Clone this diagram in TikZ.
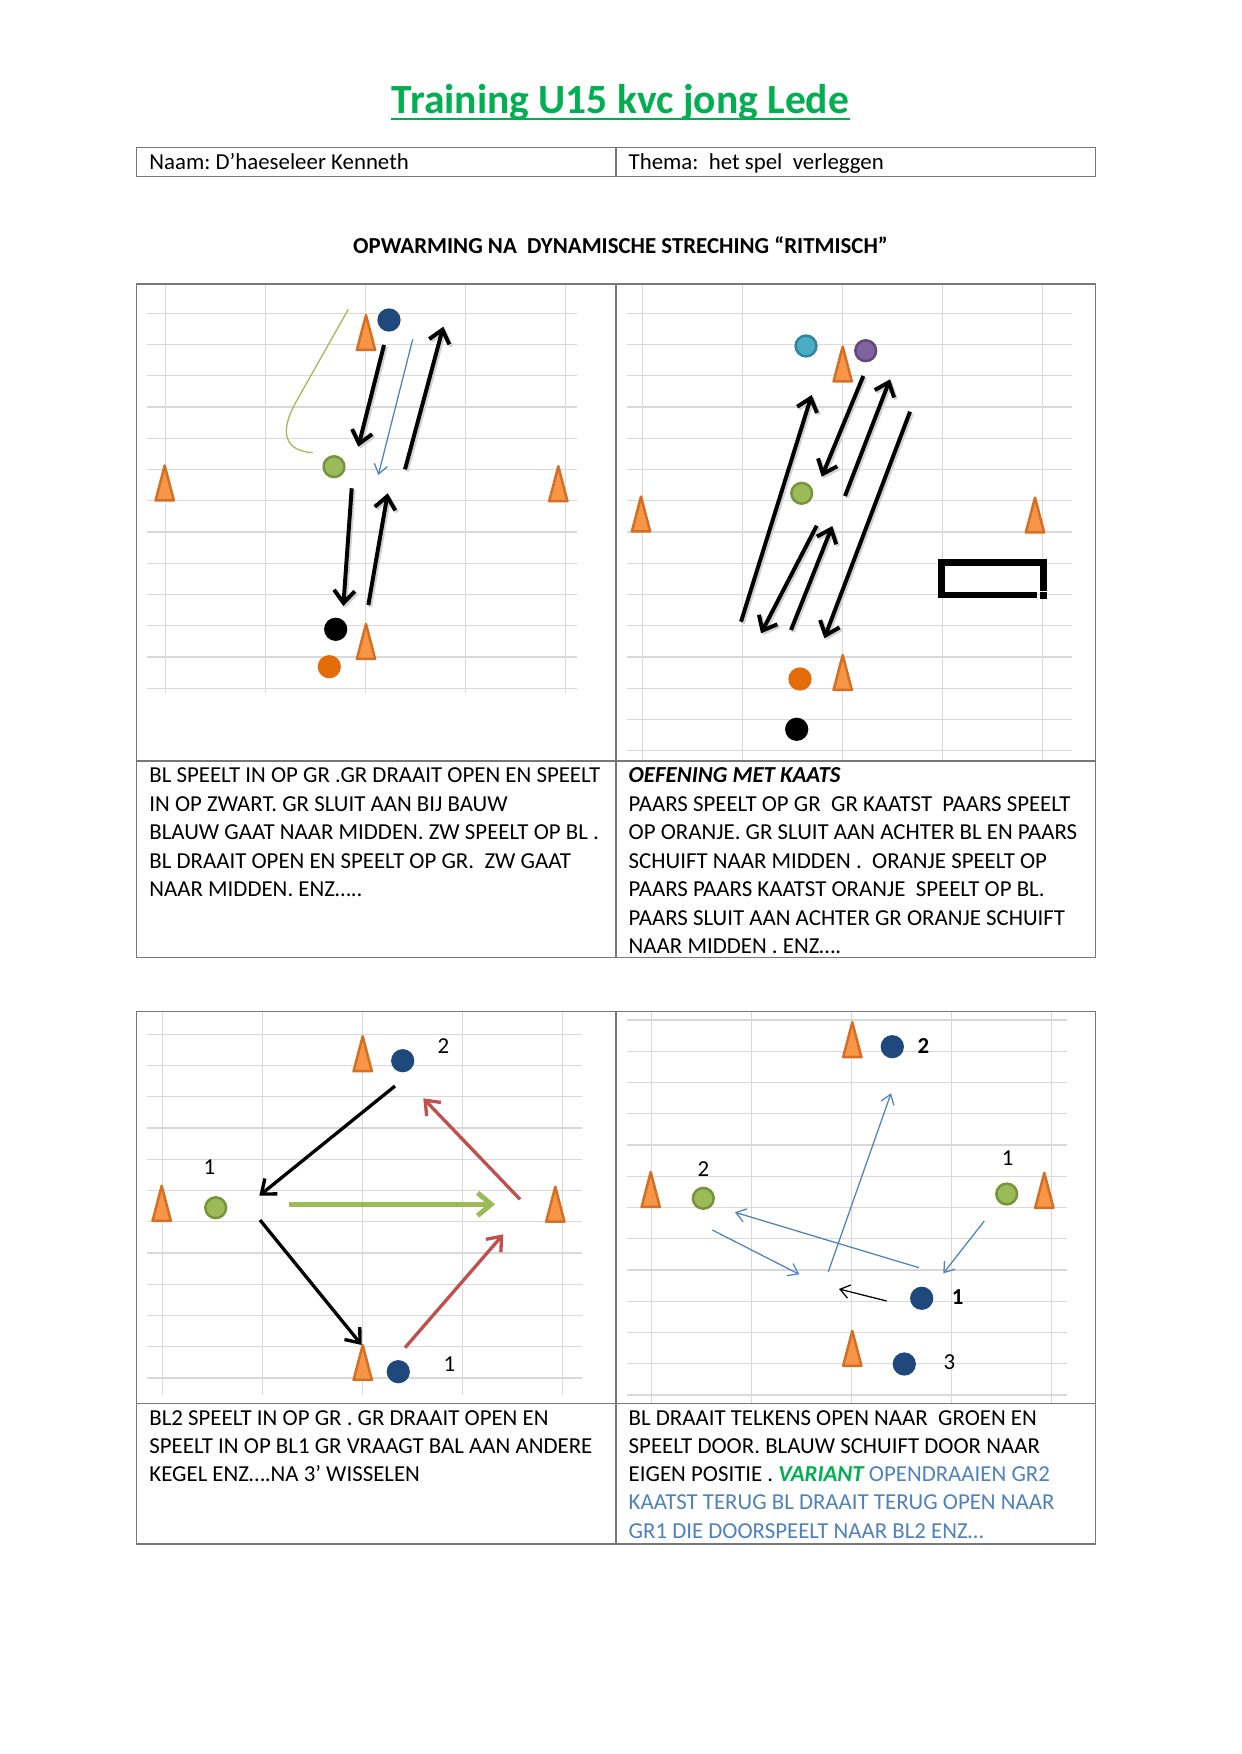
\documentclass[tikz,border=0pt]{standalone}
\usepackage{fontspec}
\setmainfont{Carlito}
\frenchspacing
\usetikzlibrary{arrows.meta}
\definecolor{kvcgreen}{RGB}{0,176,80}
\definecolor{gridgray}{RGB}{217,217,217}
\definecolor{bordergray}{RGB}{120,120,120}
\definecolor{conefill}{RGB}{247,150,70}
\definecolor{coneline}{RGB}{214,110,36}
\definecolor{plblue}{RGB}{31,73,125}
\definecolor{plgreen}{RGB}{155,187,89}
\definecolor{plgreenring}{RGB}{119,147,60}
\definecolor{plcyan}{RGB}{75,172,198}
\definecolor{plcyanring}{RGB}{49,133,156}
\definecolor{plpurple}{RGB}{128,100,162}
\definecolor{plpurplering}{RGB}{95,73,122}
\definecolor{plorange}{RGB}{227,108,9}
\definecolor{passblue}{RGB}{79,129,189}
\definecolor{passred}{RGB}{192,80,77}

\begin{document}
\begin{tikzpicture}[x=0.16922mm, y=-0.16922mm,
	every node/.style={font=\fontsize{11}{13.4}\selectfont, inner sep=0pt},
	txt/.style={anchor=base west},
	gridline/.style={gridgray, line width=0.6pt},
	tableline/.style={bordergray, line width=0.7pt},
	player/.style={circle, fill=#1, minimum size=11.2pt},
	ringplayer/.style 2 args={circle, fill=#1, draw=#2, line width=1.2pt, minimum size=10pt},
	conebox/.style={minimum width=8.4pt, minimum height=16.4pt},
	conemark/.style={fill=conefill, draw=coneline, line width=1.2pt, line join=round},
	bigpass/.style={line width=1.9pt, -{Straight Barb[length=6pt,width=10pt]}},
	passarrow/.style={line width=1.6pt, -{Straight Barb[length=6pt,width=9.5pt]}},
	thinpass/.style={passblue, line width=0.6pt, -{Straight Barb[length=4.5pt,width=6.5pt]}}]
	\fill[white] (0,0) rectangle (1241,1754);
	\useasboundingbox (0,0) rectangle (1241,1754);
	
	\node[font=\fontsize{20}{24}\selectfont\bfseries, text=kvcgreen, anchor=base] (title) at (620.5,113.3) {Training U15 kvc jong Lede};
	\draw[kvcgreen, line width=1pt] ([yshift=-2.9pt]title.base west) -- ([yshift=-2.9pt]title.base east);
	\draw[tableline] (136.5,147.7) rectangle (1095.5,176.7) (616,147.7) -- (616,176.7);
	\node[txt] (naam) at (149,170) {Naam: D’haeseleer Kenneth};
	\node[txt] (thema) at (628.3,170) {Thema:~ het spel~ verleggen};
	\node[font=\fontsize{11}{13.4}\selectfont\bfseries, anchor=base] (opwarming) at (620.5,253.3) {OPWARMING NA~ DYNAMISCHE STRECHING “RITMISCH”};
	
	\foreach \gx/\gt/\gb/\hy/\hn/\hl/\hr in {165.7/285/693/313.3/12/147.3/576.7, 642.3/285/760/313.3/14/627.3/1072.3, 162.3/1012/1395/1034.3/11/147.3/581.7, 651.7/1012/1403/1020/12/627.3/1066.7} {
		\foreach \k in {0,...,4} \draw[gridline] ({\gx+100*\k},\gt) -- ({\gx+100*\k},\gb);
		\foreach \k in {0,...,\hn} \draw[gridline] (\hl,{\hy+31.25*\k}) -- (\hr,{\hy+31.25*\k});
	}
	\draw[tableline] (136.5,284) rectangle (1095.5,957.3) (136.5,761) -- (1095.5,761) (616,284) -- (616,957.3);
	\draw[tableline] (136.5,1011.5) rectangle (1095.5,1544) (136.5,1403.3) -- (1095.5,1403.3) (616,1011.5) -- (616,1544);
	
	\foreach \n/\x/\y in {ka1/366/332.5, ka2/164.7/483, ka3/558.3/483.7, ka4/366/641.5, kb1/842.7/364, kb2/641/514, kb3/1035/515, kb4/842.7/672.5, kc1/362.7/1053.7, kc2/161.7/1203.3, kc3/555.3/1204.2, kc4/362.7/1362.5, kd1/852.3/1039.7, kd2/650.7/1189.5, kd3/1044.3/1190.3, kd4/852.3/1348.3} {
		\node[conebox] (\n) at (\x,\y) {};
		\draw[conemark] (\n.south west) -- (\n.north) -- (\n.south east) -- cycle;
	}
	
	\node[player=plblue] (bla) at (389,320) {};
	\node[player=black] (zwa) at (335.7,629.3) {};
	\node[player=plorange] (ora) at (329.3,666.7) {};
	\node[ringplayer={plgreen}{plgreenring}] (gra) at (334,466.7) {};
	\node[ringplayer={plcyan}{plcyanring}] (blb) at (806,346) {};
	\node[ringplayer={plpurple}{plpurplering}] (pab) at (865.7,350.7) {};
	\node[ringplayer={plgreen}{plgreenring}] (grb) at (801.7,493.3) {};
	\node[player=plorange] (orb) at (800,679) {};
	\node[player=black] (zwb) at (796.7,729.3) {};
	\node[player=plblue] (blc2) at (402.7,1060.7) {};
	\node[ringplayer={plgreen}{plgreenring}] (grc) at (215.7,1207.7) {};
	\node[player=plblue] (blc1) at (398.3,1371.7) {};
	\node[player=plblue] (bld2) at (892.3,1046.7) {};
	\node[ringplayer={plgreen}{plgreenring}] (grd2) at (703.3,1198.3) {};
	\node[ringplayer={plgreen}{plgreenring}] (grd1) at (1006.7,1194) {};
	\node[player=plblue] (bld1) at (921.7,1298.3) {};
	\node[player=plblue] (bld3) at (904.3,1364) {};
	
	\node (nc2) at (443.3,1045.7) {2};
	\node (nc1) at (209.3,1167.3) {1};
	\node (nc3) at (449.3,1364) {1};
	\node (nd2) at (703.3,1169) {2};
	\node (nd1) at (1007.7,1157.7) {1};
	\node[font=\fontsize{11}{13.4}\selectfont\bfseries] (nd4) at (923.3,1045.7) {2};
	\node[font=\fontsize{11}{13.4}\selectfont\bfseries] (nd5) at (957.7,1297.3) {1};
	\node (nd6) at (949.3,1362.3) {3};
	
	\foreach \i/\ax/\ay/\bx/\by in {1/384/345/358.3/446.7, 2/405/469.3/443.3/326.7, 3/351.7/488.3/343.3/606, 4/368.3/605/387.7/493.3, 5/741/621.7/811.7/395, 6/863.3/376/821.7/476.7, 7/845/496/890/379.3, 8/816.7/525.7/761/633.3, 9/791/630/832.3/526, 10/910/411.7/824.3/638.3} {
		\coordinate (s\i) at (\ax,\ay);
		\coordinate (e\i) at (\bx,\by);
		\draw[bigpass, black!18, transform canvas={shift={(0.9pt,-0.9pt)}}] (s\i) -- (e\i);
		\draw[bigpass] (s\i) -- (e\i);
	}
	\coordinate (bs) at (412.7,339.3);
	\coordinate (be) at (378.3,475);
	\draw[thinpass] (bs) -- (be);
	\coordinate (gs) at (348.3,309.3);
	\coordinate (ge) at (312.7,452.7);
	\draw[plgreen, line width=0.6pt] (gs) -- (296,402) .. controls (278,434) and (286,451) .. (ge);
	
	\draw[line width=3.3pt] (1043.3,591) -- (1043.3,562.7) -- (941.7,562.7) -- (941.7,595) -- (1037,595);
	\fill (1039.5,591.5) rectangle (1046.5,598.5);
	
	\foreach \i/\ax/\ay/\bx/\by/\c in {11/395/1086/259.3/1195.7/black, 12/260/1220/361.7/1345/black, 13/520/1199.3/423.3/1098.3/passred, 14/405/1347.7/503.3/1234.3/passred} {
		\coordinate (s\i) at (\ax,\ay);
		\coordinate (e\i) at (\bx,\by);
		\draw[passarrow, \c] (s\i) -- (e\i);
	}
	\coordinate (s15) at (289.3,1204.3);
	\coordinate (e15) at (495,1204.3);
	\draw[plgreen, line width=2.4pt, -{Straight Barb[length=6.5pt,width=11pt]}] (s15) -- (e15);
	
	\foreach \i/\ax/\ay/\bx/\by in {16/828.3/1271.7/891/1093.3, 17/919/1267.7/735/1212.3, 18/712.3/1230/799.3/1274.3, 19/984.3/1221/943.3/1273.3} {
		\coordinate (s\i) at (\ax,\ay);
		\coordinate (e\i) at (\bx,\by);
		\draw[thinpass] (s\i) -- (e\i);
	}
	\coordinate (s20) at (886.7,1301);
	\coordinate (e20) at (839,1289);
	\draw[thinpass, black] (s20) -- (e20);
	
	\foreach \t [count=\i from 0] in {BL SPEELT IN OP GR .GR DRAAIT OPEN EN SPEELT, IN OP ZWART. GR SLUIT AAN BIJ BAUW, BLAUW GAAT NAAR MIDDEN. ZW SPEELT OP BL ., BL DRAAIT OPEN EN SPEELT OP GR.~ ZW GAAT, NAAR MIDDEN. ENZ…..} {
		\node[txt] (ta\i) at (149,{782.7+28.5*\i}) {\t};
	}
	\foreach \t [count=\i from 0] in {{\bfseries\itshape OEFENING MET KAATS}, PAARS SPEELT OP GR~ GR KAATST~ PAARS SPEELT, OP ORANJE. GR SLUIT AAN ACHTER BL EN PAARS, SCHUIFT NAAR MIDDEN .~ ORANJE SPEELT OP, PAARS PAARS KAATST ORANJE~ SPEELT OP BL., PAARS SLUIT AAN ACHTER GR ORANJE SCHUIFT, NAAR MIDDEN . ENZ….} {
		\node[txt] (tb\i) at (628.3,{782.7+28.5*\i}) {\t};
	}
	\foreach \t [count=\i from 0] in {BL2 SPEELT IN OP GR . GR DRAAIT OPEN EN, SPEELT IN OP BL1 GR VRAAGT BAL AAN ANDERE, KEGEL ENZ….NA 3’ WISSELEN} {
		\node[txt] (tc\i) at (149,{1425+28.3*\i}) {\t};
	}
	\node[txt] (td0) at (628.3,1425) {BL DRAAIT TELKENS OPEN NAAR~ GROEN EN};
	\node[txt] (td1) at (628.3,1453.3) {SPEELT DOOR. BLAUW SCHUIFT DOOR NAAR};
	\node[txt] (td2) at (628.3,1481.6) {EIGEN POSITIE . {\color{kvcgreen}\bfseries\itshape VARIANT} {\color{passblue}OPENDRAAIEN GR2}};
	\node[txt, text=passblue] (td3) at (628.3,1509.9) {KAATST TERUG BL DRAAIT TERUG OPEN NAAR};
	\node[txt, text=passblue] (td4) at (628.3,1538.2) {GR1 DIE DOORSPEELT NAAR BL2 ENZ…};
\end{tikzpicture}
\end{document}
